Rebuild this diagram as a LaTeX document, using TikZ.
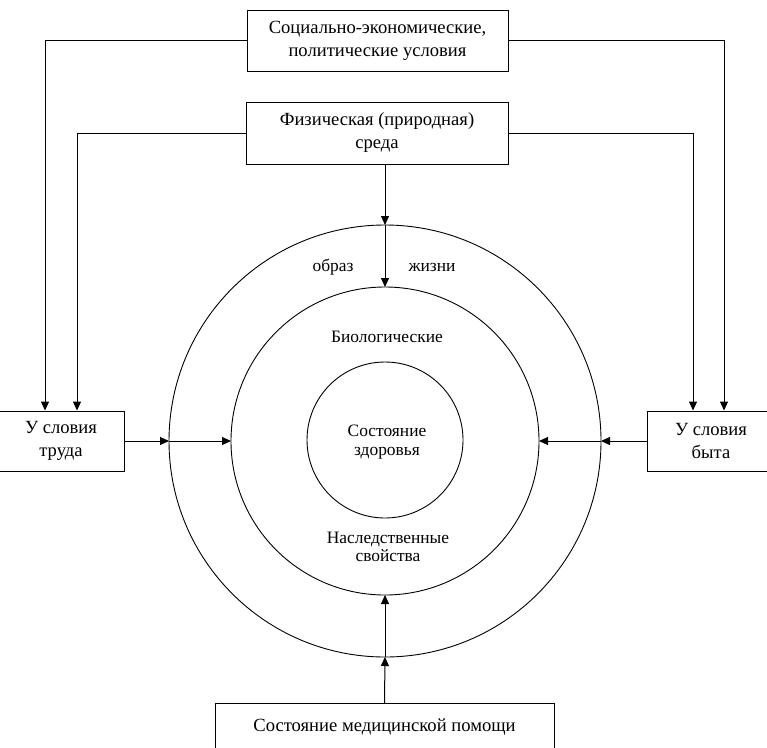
\documentclass[tikz,border=0pt]{standalone}
\usepackage{fontspec}
\setmainfont{Liberation Serif}
\usetikzlibrary{arrows.meta}
\tikzset{
  box/.style={draw, line width=1pt, rectangle, inner sep=0pt, align=center, font=\fontsize{18.6}{23}\selectfont},
  ring/.style={draw, line width=0.9pt, circle, inner sep=0pt, outer sep=0pt},
  lbl/.style={inner sep=0pt, align=center, font=\fontsize{17.4}{18.5}\selectfont},
  arr/.style={line width=1pt, -{Triangle[length=9pt,width=8pt]}}
}
\begin{document}
\begin{tikzpicture}[x=1pt,y=-1pt]
\useasboundingbox (0,0) rectangle (767,747);
% boxes
\node[box, minimum width=261pt, minimum height=61pt] (soc) at (377.5,40.5) {Социально-экономические,\\политические условия};
\node[box, minimum width=262pt, minimum height=62pt] (phys) at (377,133) {Физическая (природная)\\среда};
\node[box, minimum width=126pt, minimum height=60pt] (trud) at (61,441) {У словия\\труда};
\node[box, minimum width=128pt, minimum height=60pt] (byt) at (711,441) {У словия\\быта};
\node[box, minimum width=339pt, minimum height=48pt, anchor=north] (med) at (384.5,703) {Состояние медицинской помощи};
% circles
\node[ring, minimum size=432pt] (outer) at (385,441) {};
\node[ring, minimum size=308pt] (mid) at (385,441) {};
\node[ring, minimum size=156pt] (inner) at (385,440) {};
% labels
\node[lbl] (obraz) at (333,267) {образ};
\node[lbl] (zhizn) at (432,267) {жизни};
\node[lbl] (bio) at (387,337) {Биологические};
\node[lbl] (zdor) at (387,442) {Состояние\\здоровья};
\node[lbl] (nasl) at (388,547) {Наследственные\\свойства};
% top connectors
\coordinate (tl1) at ([xshift=-16pt]trud.north);
\coordinate (tl2) at ([xshift=16pt]trud.north);
\coordinate (tr1) at ([xshift=13pt]byt.north);
\coordinate (tr2) at ([xshift=-18pt]byt.north);
\draw[arr] (soc.west) -| (tl1);
\draw[arr] (soc.east) -| (tr1);
\draw[arr] (phys.west) -| (tl2);
\draw[arr] (phys.east) -| (tr2);
% into circles
\draw[arr] (phys.south -| outer.north) -- (outer.north);
\draw[arr] (outer.north) -- (mid.north);
\draw[arr] (trud.east) -- (outer.west);
\draw[arr] (outer.west) -- (mid.west);
\draw[arr] (byt.west) -- (outer.east);
\draw[arr] (outer.east) -- (mid.east);
\draw[arr] (med.north) -- (outer.south);
\draw[arr] (outer.south) -- (mid.south);
\end{tikzpicture}
\end{document}
